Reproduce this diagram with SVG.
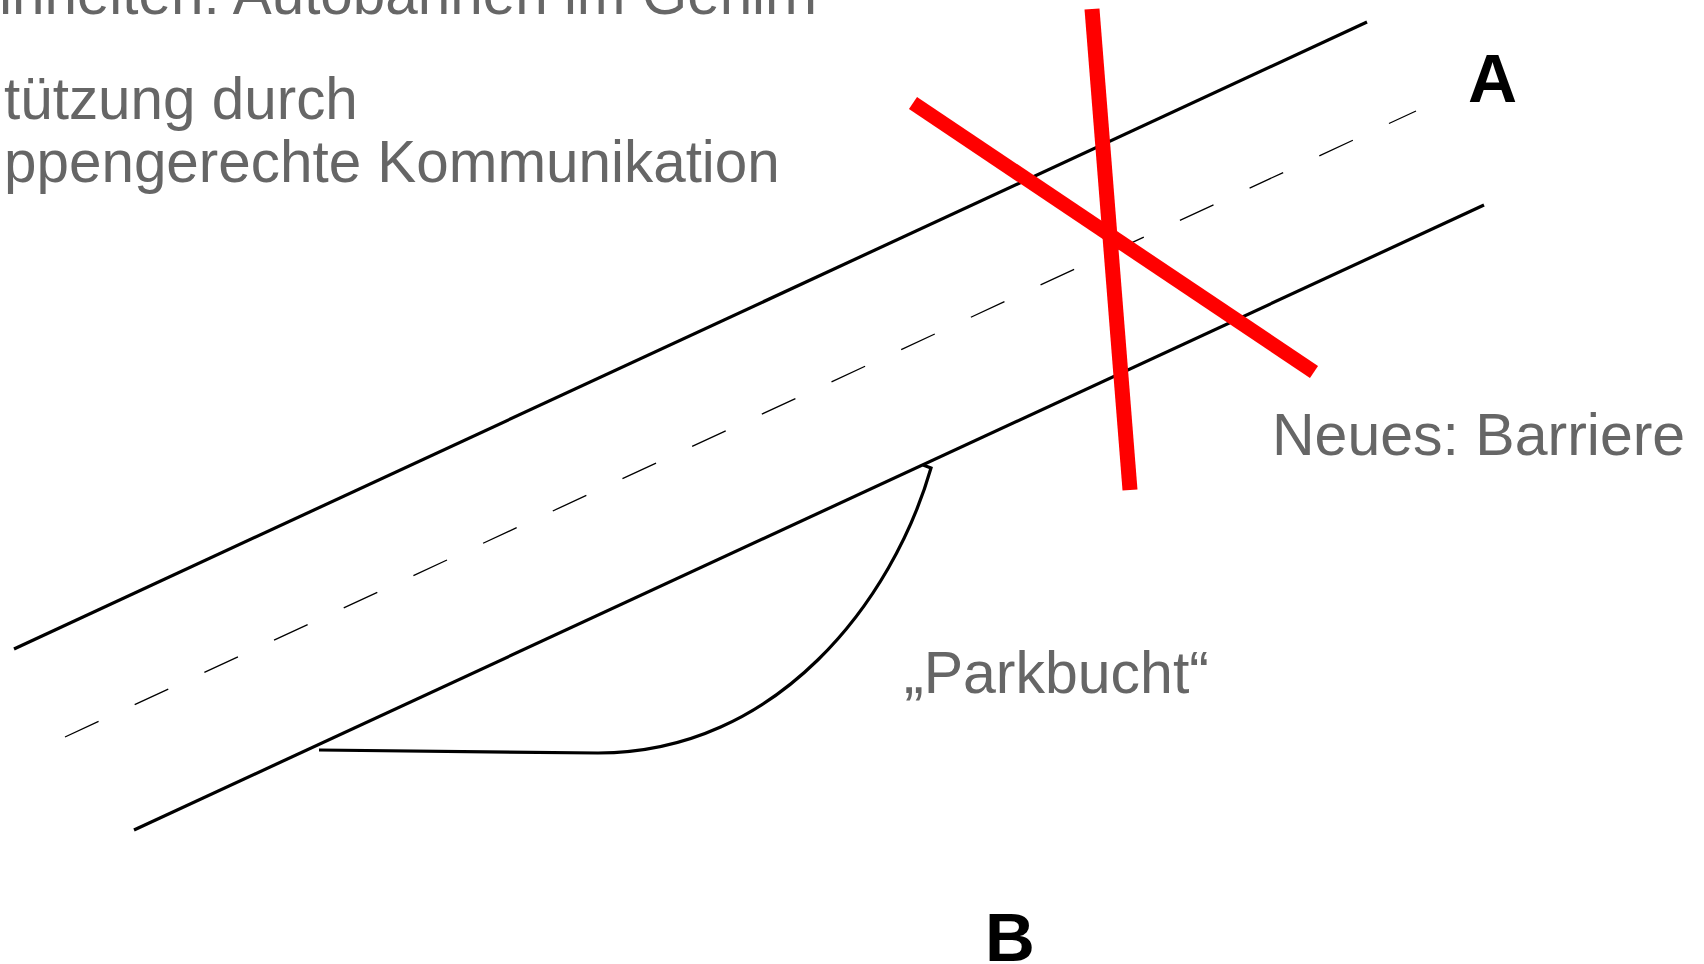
<svg xmlns="http://www.w3.org/2000/svg" width="1704" height="964" viewBox="0 0 1704 964">
<style>
.road{stroke:#000;stroke-width:3.2;fill:none}
.center{stroke:#000;stroke-width:1.3;fill:none;stroke-dasharray:37 39.8}
.barrier{stroke:#FF0000;fill:none;stroke-linecap:butt}
.gray{font-family:"Liberation Sans",Arial,sans-serif;font-size:59px;fill:#666666}
.top{font-size:58.4px}
.bold{font-family:"Liberation Sans",Arial,sans-serif;font-weight:bold;fill:#000}
</style>
<rect width="1704" height="964" fill="#ffffff"/>
<g id="text-top">
<text class="gray top" x="817" y="14" text-anchor="end">hnheiten: Autobahnen im Gehirn</text>
<text class="gray top" x="4" y="119">tützung durch</text>
<text class="gray top" x="4" y="182">ppengerechte Kommunikation</text>
</g>
<g id="road">
<line id="edge-upper" class="road" x1="14" y1="649" x2="1367" y2="22"/>
<line id="edge-lower" class="road" x1="134" y1="830" x2="1484" y2="205"/>
<line id="center-line" class="center" x1="65" y1="737" x2="1416" y2="111"/>
</g>
<g id="parkbucht">
<path class="road" d="M 319 750 L 598 753 C 778 753 893 600 931 468 L 923 465"/>
</g>
<g id="barriere">
<line class="barrier" stroke-width="14.5" x1="913" y1="103" x2="1314" y2="372"/>
<line class="barrier" stroke-width="15" x1="1092" y1="9" x2="1130" y2="490"/>
</g>
<g id="labels">
<text class="bold" x="1468" y="102" font-size="68">A</text>
<text class="bold" x="985" y="961" font-size="69">B</text>
<text class="gray" x="1272" y="455">Neues: Barriere</text>
<text class="gray" x="904" y="693">„Parkbucht“</text>
</g>
</svg>
